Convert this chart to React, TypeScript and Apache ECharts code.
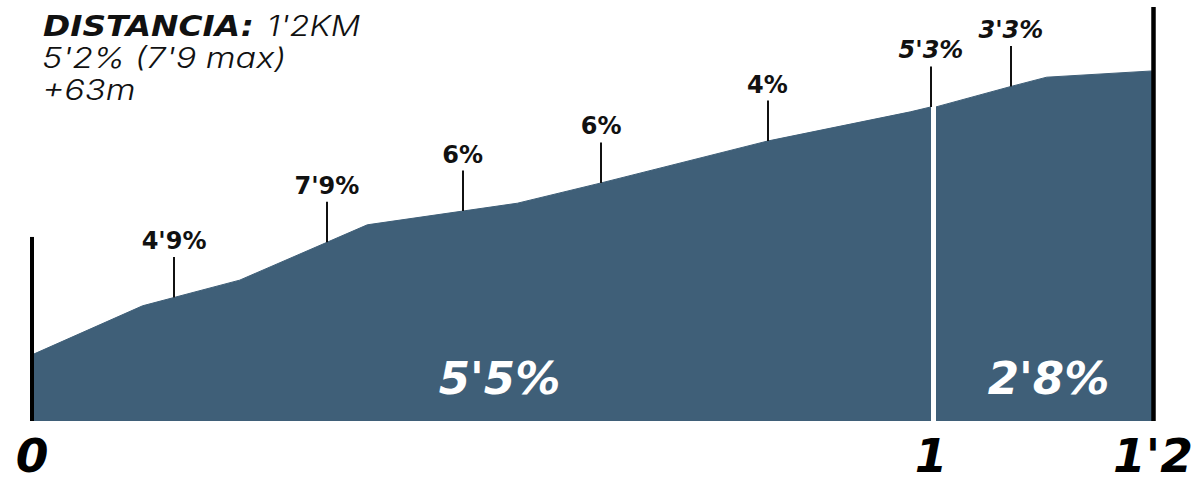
import React, { useEffect, useRef } from "react";
import * as echarts from "echarts";

// Elevation profile (distance in km, elevation in m above the lowest plotted level)
const profileKm = [0, 0.123, 0.231, 0.373, 0.54, 0.633, 0.818, 0.977, 1.0, 1.07, 1.102, 1.2];
const profileElev = [14.7, 25.6, 31.3, 43.6, 48.4, 52.9, 62.2, 68.7, 69.8, 74.4, 76.4, 77.8];

// Gradient callouts
const gradeLabels = ["4'9%", "7'9%", "6%", "6%", "4%", "5'3%", "3'3%"];
const gradeKm = [0.158, 0.328, 0.479, 0.633, 0.818, 1.0, 1.069];

// Section averages
const sectionLabels = ["5'5%", "2'8%"];
const sectionFrom = [0, 1];
const sectionTo = [1, 1.2];

// Axis tick labels
const tickValues = [0, 1, 1.2];
const tickLabels = ["0", "1", "1'2"];

// Header
const titleBold = "DISTANCIA:";
const titleLight = "1'2KM";
const subtitleLines = ["5'2% (7'9 max)", "+63m"];

const FONT = "DejaVu Sans";
const LIGHT_FONT = "Inter";
const FILL = "#3f5f78";
const Y_MAX = 92;

function interp(x: number): number {
  for (let i = 0; i < profileKm.length - 1; i++) {
    const a = profileKm[i];
    const b = profileKm[i + 1];
    if (x >= a && x <= b) {
      const t = b === a ? 0 : (x - a) / (b - a);
      return profileElev[i] + t * (profileElev[i + 1] - profileElev[i]);
    }
  }
  return profileElev[profileElev.length - 1];
}

function tickLabel(v: number): string {
  for (let i = 0; i < tickValues.length; i++) {
    if (Math.abs(tickValues[i] - v) < 1e-6) return tickLabels[i];
  }
  return "";
}

export default function App() {
  const ref = useRef<HTMLDivElement>(null);

  useEffect(() => {
    if (!ref.current) return;
    const chart = echarts.init(ref.current, null, { renderer: "svg" });

    const seg1 = profileKm
      .map((k, i) => [k, profileElev[i]])
      .filter((p) => p[0] <= 1);
    const seg2 = profileKm
      .map((k, i) => [k, profileElev[i]])
      .filter((p) => p[0] >= 1);

    const gradeLine = (i: number) => {
      const x = gradeKm[i];
      const y = interp(x);
      return [
        { coord: [x, y] },
        {
          coord: [x, y + 9],
          label: {
            show: true,
            position: "end",
            distance: 5,
            formatter: gradeLabels[i],
            color: "#111",
            fontFamily: FONT,
            fontWeight: "bold",
            fontStyle: x >= 1 ? "italic" : "normal",
            fontSize: 24,
            lineHeight: 22,
          },
        },
      ];
    };

    const gradeIdx1 = gradeKm.map((_, i) => i).filter((i) => gradeKm[i] <= 1);
    const gradeIdx2 = gradeKm.map((_, i) => i).filter((i) => gradeKm[i] > 1);

    const sectionPoint = (i: number, dx: number) => ({
      coord: [(sectionFrom[i] + sectionTo[i]) / 2, 0],
      value: sectionLabels[i],
      symbol: "circle",
      symbolSize: 1,
      itemStyle: { color: "rgba(0,0,0,0)" },
      label: {
        show: true,
        position: "inside",
        offset: [dx, -43],
        formatter: sectionLabels[i],
        color: "#ffffff",
        fontFamily: FONT,
        fontWeight: "bold",
        fontStyle: "italic",
        fontSize: 45,
      },
    });

    const axisLabelStyle = {
      color: "#000",
      fontFamily: FONT,
      fontWeight: "bold",
      fontStyle: "italic",
      fontSize: 47,
      lineHeight: 40,
      margin: 14,
      formatter: (v: number) => tickLabel(v),
    };

    const lightText = (text: string, x: number, y: number, sx: number) => ({
      type: "text",
      x,
      y,
      scaleX: sx,
      style: {
        text,
        align: "left",
        verticalAlign: "top",
        fontFamily: LIGHT_FONT,
        fontWeight: 300,
        fontStyle: "italic",
        fontSize: 28,
        fill: "#111",
      },
    });

    const option: any = {
      animation: false,
      grid: [
        { left: 32, right: 269, top: 7, bottom: 63 },
        { left: 936, right: 47, top: 7, bottom: 63 },
      ],
      xAxis: [
        {
          type: "value",
          gridIndex: 0,
          min: 0,
          max: 1,
          interval: 1,
          axisLine: { show: false },
          axisTick: { show: false },
          splitLine: { show: false },
          axisLabel: axisLabelStyle,
        },
        {
          type: "value",
          gridIndex: 1,
          min: 1,
          max: 1.2,
          interval: 0.2,
          axisLine: { show: false },
          axisTick: { show: false },
          splitLine: { show: false },
          axisLabel: { ...axisLabelStyle, showMinLabel: false },
        },
      ],
      yAxis: [
        { type: "value", gridIndex: 0, min: 0, max: Y_MAX, show: false },
        { type: "value", gridIndex: 1, min: 0, max: Y_MAX, show: false },
      ],
      graphic: [
        {
          type: "text",
          x: 43,
          y: 12,
          scaleX: 1.17,
          style: {
            text: titleBold,
            align: "left",
            verticalAlign: "top",
            fontFamily: FONT,
            fontWeight: "bold",
            fontStyle: "italic",
            fontSize: 28,
            fill: "#111",
          },
        },
        lightText(titleLight, 267, 11, 1.17),
        ...subtitleLines.map((t, i) => lightText(t, 42, 44 + i * 32.5, 1.22)),
      ],
      series: [
        {
          type: "line",
          xAxisIndex: 0,
          yAxisIndex: 0,
          data: seg1,
          symbol: "none",
          clip: false,
          lineStyle: { width: 1, color: FILL },
          areaStyle: { color: FILL, opacity: 1 },
          markLine: {
            symbol: ["none", "none"],
            silent: true,
            animation: false,
            lineStyle: { color: "#111", type: "solid", width: 2 },
            data: [
              ...gradeIdx1.map(gradeLine),
              [
                { coord: [0, 0], lineStyle: { color: "#000", width: 4, type: "solid" }, label: { show: false } },
                { coord: [0, 40.9], label: { show: false } },
              ],
            ],
          },
          markPoint: {
            animation: false,
            data: [sectionPoint(0, 18)],
          },
        },
        {
          type: "line",
          xAxisIndex: 1,
          yAxisIndex: 1,
          data: seg2,
          symbol: "none",
          clip: false,
          lineStyle: { width: 1, color: FILL },
          areaStyle: { color: FILL, opacity: 1 },
          markLine: {
            symbol: ["none", "none"],
            silent: true,
            animation: false,
            lineStyle: { color: "#111", type: "solid", width: 2 },
            data: [
              ...gradeIdx2.map(gradeLine),
              [
                { coord: [1.2, 0], lineStyle: { color: "#000", width: 4.5, type: "solid" }, label: { show: false } },
                { coord: [1.2, Y_MAX], label: { show: false } },
              ],
            ],
          },
          markPoint: {
            animation: false,
            data: [sectionPoint(1, 4)],
          },
        },
      ],
    };

    chart.setOption(option);
    return () => {
      chart.dispose();
    };
  }, []);

  return <div ref={ref} style={{ width: 1200, height: 484, position: "absolute", left: 0, top: 0 }} />;
}
